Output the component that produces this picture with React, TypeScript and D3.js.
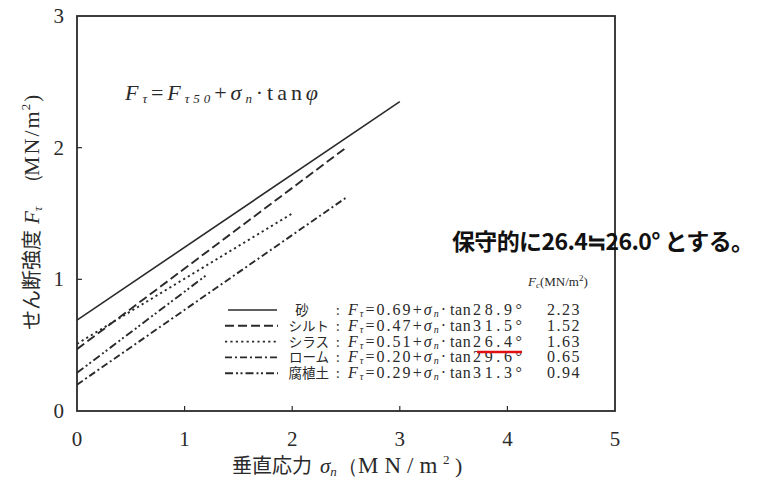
import React from "react";
import * as d3 from "d3";

const soilNames = ["砂", "シルト", "シラス", "ローム", "腐植土"];
const intercepts = ["0.69", "0.47", "0.51", "0.20", "0.29"];
const angles = ["28.9", "31.5", "26.4", "29.6", "31.3"];
const fcValues = ["2.23", "1.52", "1.63", "0.65", "0.94"];
// line endpoints: [sigma, F] at start and end
const lineStartX = [0, 0, 0, 0, 0];
const lineStartY = [0.69, 0.47, 0.51, 0.2, 0.29];
const lineEndX = [3, 2.5, 2, 2.5, 1.2];
const lineEndY = [2.35, 2.0, 1.5, 1.62, 1.03];
const xTicks = [0, 1, 2, 3, 4, 5];
const yTicks = [0, 1, 2, 3];
const noteText = "保守的に26.4≒26.0° とする。";

const dashes = ["", "9,4", "2.2,3.2", "7,3,2,3", "8,3,2,2.5,2,3"];

const W = 762;
const H = 484;
const serif = "'Liberation Serif', 'DejaVu Serif', serif";
const jp = "'Noto Sans CJK JP', sans-serif";
const ink = "#2a2a2a";

const S = (extra: any = {}) => ({ fontFamily: serif, ...extra });
const J = (extra: any = {}) => ({ fontFamily: jp, ...extra });

export default function App() {
  const x = d3.scaleLinear().domain([0, 5]).range([77, 615]);
  const y = d3.scaleLinear().domain([0, 3]).range([411, 16]);
  const line = d3
    .line<[number, number]>()
    .x((d) => x(d[0]))
    .y((d) => y(d[1]));

  const rowY = (i: number) => 315 + i * 15.8;

  return (
    <svg
      width={W}
      height={H}
      viewBox={`0 0 ${W} ${H}`}
      style={{ position: "absolute", left: 0, top: 0, background: "#fff" }}
    >
      <rect x={0} y={0} width={W} height={H} fill="#fff" />
      {/* plot frame */}
      <rect
        x={x(0)}
        y={y(3)}
        width={x(5) - x(0)}
        height={y(0) - y(3)}
        fill="none"
        stroke={ink}
        strokeWidth={1.8}
      />
      {/* ticks */}
      {xTicks.slice(1, -1).map((t) => (
        <line key={"xt" + t} x1={x(t)} x2={x(t)} y1={y(0)} y2={y(0) - 5} stroke={ink} strokeWidth={1.2} />
      ))}
      {yTicks.slice(1, -1).map((t) => (
        <line key={"yt" + t} x1={x(0)} x2={x(0) + 5} y1={y(t)} y2={y(t)} stroke={ink} strokeWidth={1.2} />
      ))}
      {xTicks.map((t) => (
        <text key={"xl" + t} x={x(t)} y={446} textAnchor="middle" style={S({ fontSize: 21 })} fill={ink}>
          {t}
        </text>
      ))}
      {yTicks.map((t) => (
        <text key={"yl" + t} x={64} y={y(t) + 7} textAnchor="end" style={S({ fontSize: 21 })} fill={ink}>
          {t}
        </text>
      ))}

      {/* axis titles */}
      <text x={232} y={473} style={J({ fontSize: 20 })} fill={ink}>
        垂直応力
        <tspan x={320} style={S({ fontStyle: "italic", fontSize: 21 })}>σ</tspan>
        <tspan style={S({ fontStyle: "italic", fontSize: 13 })} dy={3}>n</tspan>
        <tspan x={338} dy={-3} style={S({ fontSize: 20 })}>（</tspan>
        <tspan x={358} style={S({ fontSize: 23, letterSpacing: 6 })}>MN/m</tspan>
        <tspan x={443} style={S({ fontSize: 13 })} dy={-9}>2</tspan>
        <tspan x={455} style={S({ fontSize: 22 })} dy={9}>)</tspan>
      </text>
      <text
        transform="translate(39,330) rotate(-90)"
        style={J({ fontSize: 20 })}
        fill={ink}
      >
        せん断強度
        <tspan x={106} style={S({ fontStyle: "italic", fontSize: 21 })}>F</tspan>
        <tspan style={S({ fontStyle: "italic", fontSize: 13 })} dy={3}>τ</tspan>
        <tspan x={137} dy={-3} style={S({ fontSize: 20 })}>（</tspan>
        <tspan x={154} style={S({ fontSize: 22, letterSpacing: 2 })}>MN/m</tspan>
        <tspan dx={-1} style={S({ fontSize: 13 })} dy={-9}>2</tspan>
        <tspan dx={2} style={S({ fontSize: 21 })} dy={9}>)</tspan>
      </text>

      {/* formula */}
      <text
        x={125}
        y={100}
        style={S({ fontSize: 22 })}
        fill={ink}
        textLength={193}
        lengthAdjust="spacing"
      >
        <tspan style={{ fontStyle: "italic" }}>F</tspan>
        <tspan style={{ fontStyle: "italic", fontSize: 13 }} dy={3}>τ</tspan>
        <tspan dy={-3}>=</tspan>
        <tspan style={{ fontStyle: "italic" }}>F</tspan>
        <tspan style={{ fontStyle: "italic", fontSize: 13 }} dy={3}>τ50</tspan>
        <tspan dy={-3}>+</tspan>
        <tspan style={{ fontStyle: "italic" }}>σ</tspan>
        <tspan style={{ fontStyle: "italic", fontSize: 13 }} dy={3}>n</tspan>
        <tspan dy={-3}>·tan</tspan>
        <tspan style={{ fontStyle: "italic" }}>φ</tspan>
      </text>

      {/* data lines */}
      {soilNames.map((s, i) => (
        <path
          key={"ln" + s}
          d={line([
            [lineStartX[i], lineStartY[i]],
            [lineEndX[i], lineEndY[i]],
          ]) || ""}
          fill="none"
          stroke={ink}
          strokeWidth={i === 0 ? 1.6 : 1.9}
          strokeDasharray={dashes[i] || undefined}
        />
      ))}

      {/* legend */}
      <text x={528} y={286} style={S({ fontSize: 13 })} fill={ink}>
        <tspan style={{ fontStyle: "italic" }}>F</tspan>
        <tspan style={{ fontStyle: "italic", fontSize: 9 }} dy={2}>c</tspan>
        <tspan dy={-2}>(MN/m</tspan>
        <tspan style={{ fontSize: 9 }} dy={-5}>2</tspan>
        <tspan dy={5}>)</tspan>
      </text>
      {soilNames.map((s, i) => (
        <g key={"lg" + s}>
          <line
            x1={i === 0 ? 228 : 225}
            x2={i === 0 ? 277 : 278}
            y1={rowY(i) - 5}
            y2={rowY(i) - 5}
            stroke={ink}
            strokeWidth={i === 0 ? 1.6 : 1.9}
            strokeDasharray={dashes[i] || undefined}
          />
          <text
            x={i === 0 ? 302 : 329}
            y={rowY(i)}
            textAnchor={i === 0 ? "middle" : "end"}
            style={J({ fontSize: 13.5 })}
            fill={ink}
          >
            {s}
          </text>
          <text x={336} y={rowY(i)} style={J({ fontSize: 13 })} fill={ink}>
            :
          </text>
          <text
            x={348}
            y={rowY(i)}
            style={S({ fontSize: 16 })}
            fill={ink}
            textLength={98}
            lengthAdjust="spacing"
          >
            <tspan style={{ fontStyle: "italic" }}>F</tspan>
            <tspan style={{ fontStyle: "italic", fontSize: 10 }} dy={2}>τ</tspan>
            <tspan dy={-2}>={intercepts[i]}+</tspan>
            <tspan style={{ fontStyle: "italic" }}>σ</tspan>
            <tspan style={{ fontStyle: "italic", fontSize: 10 }} dy={2}>n</tspan>
            <tspan dy={-2}>·</tspan>
          </text>
          <text x={450} y={rowY(i)} style={S({ fontSize: 16, letterSpacing: 0.6 })} fill={ink}>
            tan
          </text>
          <text
            x={473}
            y={rowY(i)}
            style={S({ fontSize: 16 })}
            fill={ink}
            textLength={49}
            lengthAdjust="spacing"
          >
            {angles[i]}°
          </text>
          <text
            x={564}
            y={rowY(i)}
            textAnchor="middle"
            style={S({ fontSize: 16, letterSpacing: 1.5 })}
            fill={ink}
          >
            {fcValues[i]}
          </text>
        </g>
      ))}
      {/* red underline */}
      <line x1={477} x2={522} y1={352} y2={352} stroke="#e01010" strokeWidth={2.6} />

      {/* annotation */}
      <text
        x={452}
        y={250}
        style={J({ fontSize: 23, fontWeight: 700 })}
        fill="#111"
        textLength={302}
        lengthAdjust="spacing"
      >
        {noteText}
      </text>
    </svg>
  );
}
